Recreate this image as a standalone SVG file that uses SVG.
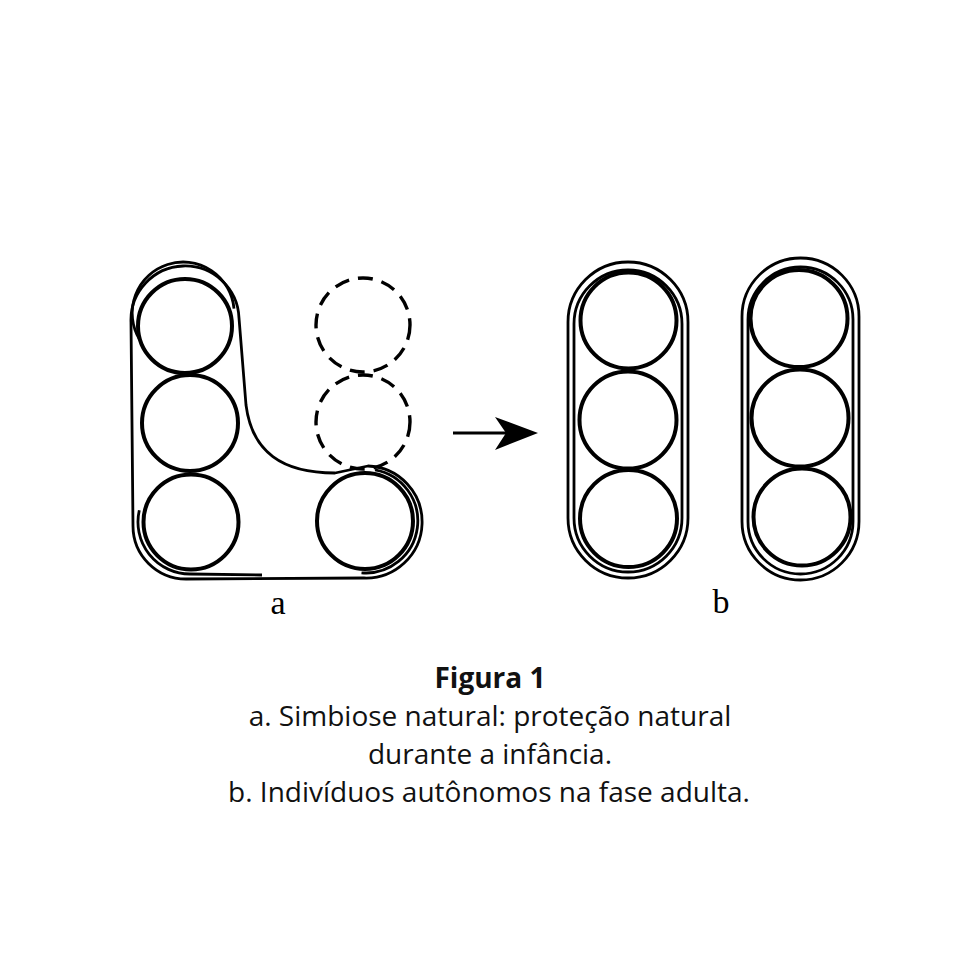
<svg xmlns="http://www.w3.org/2000/svg" width="980" height="980" viewBox="0 0 980 980">
<style>
.c{fill:none;stroke:#000;stroke-width:4}
.d{fill:none;stroke:#000;stroke-width:3.4;stroke-dasharray:15 9}
.o{fill:none;stroke:#000;stroke-width:2.8;stroke-linejoin:round}
.lbl{font-family:"Liberation Serif",serif;font-size:34px;fill:#000;text-anchor:middle}
.cap{font-family:"Open Sans","Noto Sans",sans-serif;font-size:28px;fill:#111;text-anchor:middle}
</style>
<rect width="980" height="980" fill="#fff"/>
<g id="group-a">
  <path class="o" d="M131,322 A54,54 0 0 1 239,318 L246,405 C252,452 282,473 335,473 L368,466 A56,56 0 1 1 364,578 L186,579 A53,53 0 0 1 133,526 Z"/>
  <path class="o" d="M139.3,339 A51,51 0 1 1 234,308.6"/>
  <path class="o" d="M139.3,510.3 A52,52 0 0 0 190,574 L262,575"/>
  <path class="o" d="M375,469.8 A52,52 0 0 1 361.5,572.8"/>
  <circle class="c" cx="185" cy="326" r="47"/>
  <circle class="c" cx="190" cy="423" r="48"/>
  <circle class="c" cx="191" cy="522" r="47.5"/>
  <circle class="c" cx="365" cy="521" r="48"/>
  <circle class="d" cx="363" cy="325" r="47"/>
  <circle class="d" cx="363" cy="422" r="47"/>
</g>
<g id="connectors">
  <line x1="453" y1="433" x2="515" y2="433" stroke="#000" stroke-width="3"/>
  <polygon points="538,433 495,417 506,433 495,450" fill="#000"/>
</g>
<g id="group-b1">
  <rect class="o" x="568" y="262" width="120" height="316" rx="60"/>
  <rect class="o" x="574" y="270" width="108" height="302" rx="54"/>
  <circle class="c" cx="628.5" cy="320.5" r="48"/>
  <circle class="c" cx="628" cy="420" r="48.5"/>
  <circle class="c" cx="628.5" cy="518.5" r="48.5"/>
</g>
<g id="group-b2">
  <rect class="o" x="742" y="258" width="117" height="322" rx="58.5"/>
  <rect class="o" x="748" y="267" width="105" height="307" rx="52.5"/>
  <circle class="c" cx="799" cy="318.5" r="48.5"/>
  <circle class="c" cx="800" cy="418" r="48.5"/>
  <circle class="c" cx="802" cy="517" r="48.5"/>
</g>
<g id="labels">
  <text class="lbl" x="278" y="614">a</text>
  <text class="lbl" x="721" y="613">b</text>
</g>
<g id="caption">
  <text class="cap" x="490" y="688" font-weight="bold">Figura 1</text>
  <text class="cap" x="490" y="726">a. Simbiose natural: proteção natural</text>
  <text class="cap" x="490" y="764">durante a infância.</text>
  <text class="cap" x="489" y="802">b. Indivíduos autônomos na fase adulta.</text>
</g>
</svg>
